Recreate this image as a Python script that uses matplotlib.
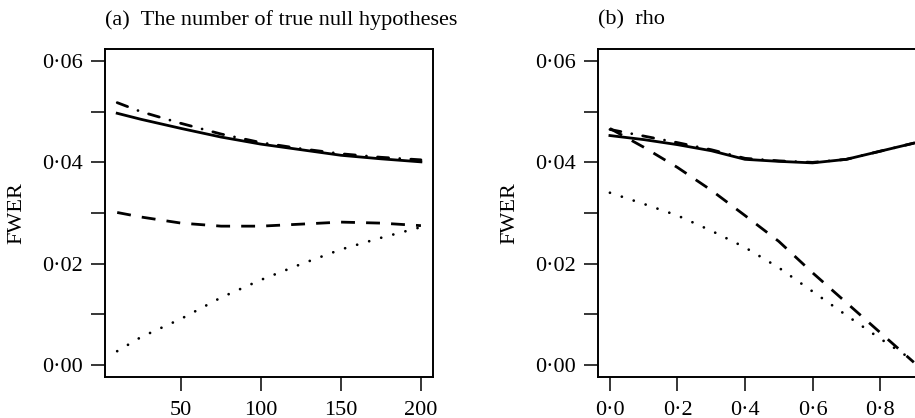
import matplotlib
matplotlib.use("Agg")
import matplotlib.pyplot as plt

plt.rcParams['font.family'] = ['Liberation Serif', 'DejaVu Serif']

# (a) number of true null hypotheses
x_a = [10, 25, 50, 75, 100, 125, 150, 175, 200]
solid_a = [0.0497, 0.0485, 0.0467, 0.0450, 0.0436, 0.0425, 0.0414, 0.0407, 0.0401]
dashdot_a = [0.0518, 0.0500, 0.0477, 0.0456, 0.0439, 0.0427, 0.0417, 0.0410, 0.0405]
dashed_a = [0.0301, 0.0292, 0.0280, 0.0274, 0.0274, 0.0278, 0.0282, 0.0280, 0.0275]
dotted_a = [0.0027, 0.0055, 0.0091, 0.0133, 0.0168, 0.0199, 0.0228, 0.0251, 0.0272]

# (b) rho
x_b = [0.0, 0.1, 0.2, 0.3, 0.4, 0.5, 0.6, 0.7, 0.8, 0.9]
solid_b = [0.0453, 0.0445, 0.0435, 0.0423, 0.0406, 0.0402, 0.0399, 0.0406, 0.0422, 0.0438]
dashdot_b = [0.0465, 0.0452, 0.0439, 0.0425, 0.0408, 0.0403, 0.0400, 0.0406, 0.0422, 0.0438]
dashed_b = [0.0467, 0.0430, 0.0390, 0.0345, 0.0295, 0.0244, 0.0182, 0.0123, 0.0064, 0.0005]
dotted_b = [0.0340, 0.0318, 0.0295, 0.0265, 0.0232, 0.0192, 0.0145, 0.0098, 0.0052, 0.0008]

y_ticks = [0.0, 0.01, 0.02, 0.03, 0.04, 0.05, 0.06]
y_labels = ['0·00', '', '0·02', '', '0·04', '', '0·06']

fig = plt.figure(figsize=(9.15, 4.18), dpi=100)
ax1 = fig.add_axes([0.1148, 0.0981, 0.3585, 0.7847])
ax2 = fig.add_axes([0.6533, 0.0981, 0.3587, 0.7847])

styles = dict(
    solid=dict(linestyle='-', lw=2.0),
    dashdot=dict(linestyle=(0, (4, 4, 0.01, 4)), lw=2.0, dash_capstyle='round'),
    dashed=dict(linestyle=(0, (5.0, 4.0)), lw=2.0),
    dotted=dict(linestyle=(0, (0.01, 4.5)), lw=2.0, dash_capstyle='round'),
)


def draw(ax, x, solid, dashdot, dashed, dotted):
    ax.plot(x, dotted, color='black', **styles['dotted'])
    ax.plot(x, dashed, color='black', **styles['dashed'])
    ax.plot(x, dashdot, color='black', **styles['dashdot'])
    ax.plot(x, solid, color='black', **styles['solid'])
    ax.set_ylim(-0.0024, 0.0624)
    ax.set_yticks(y_ticks)
    ax.set_yticklabels(y_labels)
    ax.set_ylabel('FWER', fontsize=16)
    ax.yaxis.set_label_coords(-0.24, 0.5)
    ax.tick_params(direction='out', length=10, width=1.1, labelsize=16, pad=6)
    ax.tick_params(axis='x', pad=7)
    for s in ax.spines.values():
        s.set_linewidth(1.4)


draw(ax1, x_a, solid_a, dashdot_a, dashed_a, dotted_a)
ax1.set_xlim(2.4, 207.6)
ax1.set_xticks([50, 100, 150, 200])
ax1.set_xticklabels(['50', '100', '150', '200'])

draw(ax2, x_b, solid_b, dashdot_b, dashed_b, dotted_b)
ax2.set_xlim(-0.036, 0.936)
ax2.set_xticks([0.0, 0.2, 0.4, 0.6, 0.8])
ax2.set_xticklabels(['0·0', '0·2', '0·4', '0·6', '0·8'])

fig.text(0.1148, 1 - 20 / 418, '(a)  The number of true null hypotheses',
         fontsize=16, ha='left', va='center')
fig.text(0.6533, 1 - 20 / 418, '(b)  rho', fontsize=16, ha='left', va='center')

fig.savefig('out.png', dpi=100)
